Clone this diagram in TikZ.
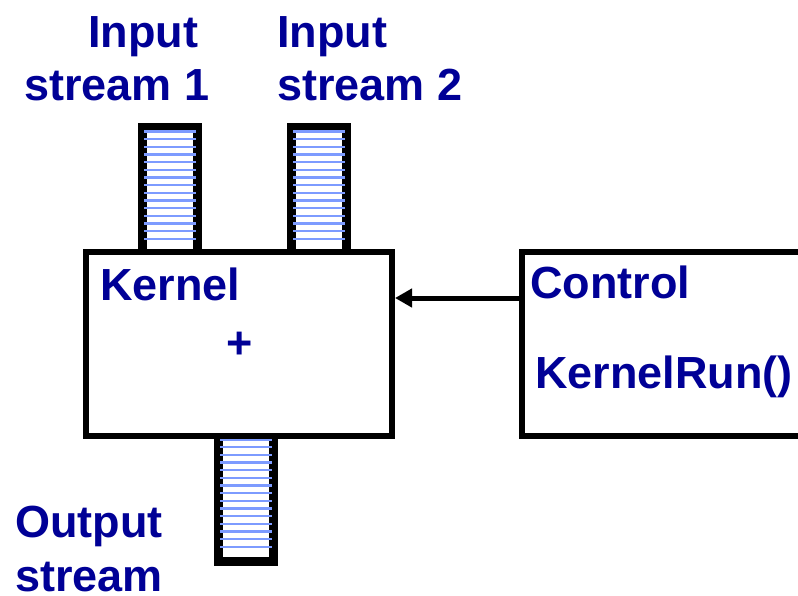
\documentclass[tikz,border=0pt]{standalone}
\usepackage{fontspec}
\setmainfont{Liberation Sans}
\usetikzlibrary{arrows.meta}
\definecolor{labelblue}{RGB}{0,0,150}
\definecolor{stripeblue}{RGB}{125,155,255}
\tikzset{
  box/.style={draw=black, line width=6pt, fill=white, rectangle, inner sep=0pt},
  label/.style={text=labelblue, font=\fontsize{45}{50}\selectfont\bfseries, inner sep=0pt, anchor=base west},
  stripe/.style={draw=stripeblue, line width=2.2pt},
}
\begin{document}
\begin{tikzpicture}[x=1pt,y=-1pt]
\useasboundingbox (0,0) rectangle (798,595);
\clip (0,0) rectangle (798,595);

% stream buffers (striped)
\node[box, minimum width=52pt, minimum height=123pt] (in1) at (170,190) {};
\node[box, minimum width=52pt, minimum height=123pt] (in2) at (319,190) {};
\node[box, minimum width=51.5pt, minimum height=124pt] (out) at (245.75,498) {};
\foreach \s in {in1,in2}{
  \foreach \i in {0,...,14}{
    \draw[stripe] ([xshift=3pt,yshift=-6pt-7.67*\i pt]\s.north west) -- ([xshift=-3pt,yshift=-6pt-7.67*\i pt]\s.north east);
  }
}
\foreach \i in {0,...,14}{
  \draw[stripe] ([xshift=3pt,yshift=-6.5pt-7.67*\i pt]out.north west) -- ([xshift=-3pt,yshift=-6.5pt-7.67*\i pt]out.north east);
}
\foreach \s in {in1,in2,out}{
  \draw[line width=6pt] (\s.south west) rectangle (\s.north east);
}

% kernel and control blocks
\node[box, minimum width=306pt, minimum height=184pt] (kernel) at (239,344) {};
\node[box, minimum width=320pt, minimum height=184pt, anchor=west] (ctrl) at (519,344) {};

% control arrow
\coordinate (a) at (519,298);
\draw[line width=5pt, -{Triangle[length=17pt,width=18pt]}] (a) -- (kernel.east |- a);

% labels
\node[label] (t1a) at (88,47) {Input};
\node[label] (t1b) at (24,100) {stream 1};
\node[label] (t2a) at (277,47) {Input};
\node[label] (t2b) at (277,100) {stream 2};
\node[label] (tk) at (100,300) {Kernel};
\node[label, anchor=center] (tplus) at (240,345) {+};
\node[label] (tc) at (530,298) {Control};
\node[label] (tr) at (535,388) {KernelRun()};
\node[label] (to1) at (15,537) {Output};
\node[label] (to2) at (15,591) {stream};
\end{tikzpicture}
\end{document}
